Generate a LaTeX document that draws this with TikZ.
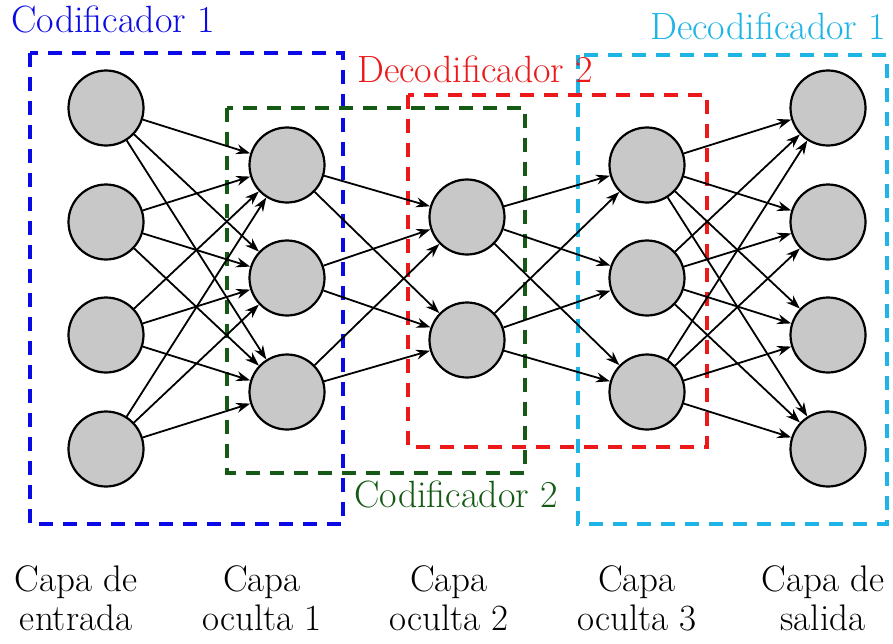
\documentclass[tikz,border=0pt]{standalone}
\usetikzlibrary{arrows.meta}

\definecolor{encA}{RGB}{10,10,230}
\definecolor{encB}{RGB}{20,90,20}
\definecolor{decB}{RGB}{235,25,25}
\definecolor{decA}{RGB}{30,180,230}
\definecolor{neuronfill}{RGB}{200,200,200}

\tikzset{
  neuron/.style={circle, draw=black, line width=2.2pt, fill=neuronfill,
                 minimum size=75pt, inner sep=0pt},
  link/.style={line width=1.8pt, -{Stealth[length=14pt,width=10pt]}},
  groupbox/.style={line width=3.2pt, dash pattern=on 14pt off 10pt},
  grouptitle/.style={anchor=base west, inner sep=0pt, font=\fontsize{38}{42}\selectfont},
  layerlabel/.style={align=center, inner sep=0pt, anchor=north,
                     font=\fontsize{37}{39}\selectfont}
}

\begin{document}
\begin{tikzpicture}[x=1pt, y=-1pt]
  \useasboundingbox (0,0) rectangle (893,643);

  % dashed group frames
  \draw[groupbox, encA] (30,53) rectangle (343,524);
  \draw[groupbox, encB] (227,108) rectangle (525,473);
  \draw[groupbox, decB] (408,95) rectangle (707,447);
  \draw[groupbox, decA] (578,55) rectangle (887,524);

  % frame titles
  \node[grouptitle, text=encA] (t1) at (11,32) {Codificador 1};
  \node[grouptitle, text=decB] (t2) at (357,82) {Decodificador 2};
  \node[grouptitle, text=decA] (t3) at (650,39) {Decodificador 1};
  \node[grouptitle, text=encB] (t4) at (354,507) {Codificador 2};

  % neurons
  \foreach \i/\y in {1/108, 2/222, 3/335, 4/449} \node[neuron] (a\i) at (106,\y) {};
  \foreach \i/\y in {1/165, 2/278, 3/392} \node[neuron] (b\i) at (287,\y) {};
  \foreach \i/\y in {1/217, 2/340} \node[neuron] (c\i) at (467,\y) {};
  \foreach \i/\y in {1/165, 2/278, 3/392} \node[neuron] (d\i) at (647,\y) {};
  \foreach \i/\y in {1/108, 2/222, 3/335, 4/449} \node[neuron] (e\i) at (828,\y) {};

  % fully connected links
  \foreach \s in {1,...,4} \foreach \t in {1,...,3} \draw[link] (a\s) -- (b\t);
  \foreach \s in {1,...,3} \foreach \t in {1,2} \draw[link] (b\s) -- (c\t);
  \foreach \s in {1,2} \foreach \t in {1,...,3} \draw[link] (c\s) -- (d\t);
  \foreach \s in {1,...,3} \foreach \t in {1,...,4} \draw[link] (d\s) -- (e\t);

  % layer captions
  \node[layerlabel] (l1) at (76,565) {Capa de\\entrada};
  \node[layerlabel] (l2) at (262,565) {Capa\\oculta 1};
  \node[layerlabel] (l3) at (449,565) {Capa\\oculta 2};
  \node[layerlabel] (l4) at (637,565) {Capa\\oculta 3};
  \node[layerlabel] (l5) at (823,565) {Capa de\\salida};
\end{tikzpicture}
\end{document}
